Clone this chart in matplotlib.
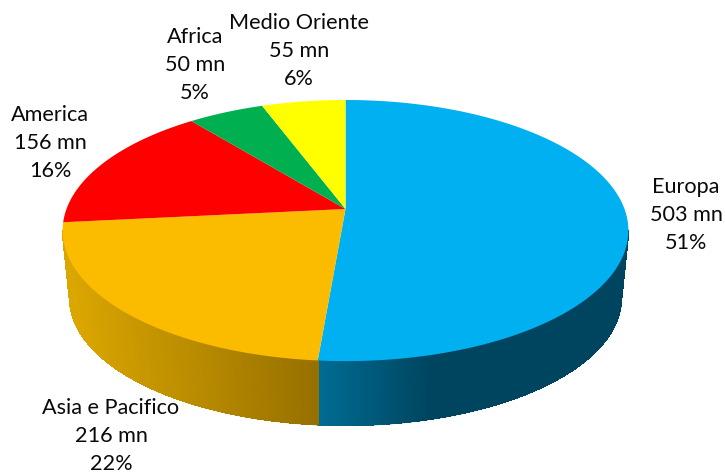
import numpy as np
import matplotlib
matplotlib.use("Agg")
import matplotlib.pyplot as plt
from matplotlib.collections import LineCollection
from matplotlib.colors import to_rgb

# Data, clockwise from 12 o'clock
regions = ["Europa", "Asia e Pacifico", "America", "Africa", "Medio Oriente"]
values = [503, 216, 156, 50, 55]
colors = ["#00B0F0", "#FBBC00", "#FF0000", "#00B050", "#FFFF00"]
label_xy = [(686, 215), (111, 436), (50, 143), (195, 65), (299, 51)]

# Projection of the tilted disc into pixels
APEX = (345.5, 209.0)
BX, BY, K = 279.0, 127.0, 0.165
DEPTH, SHRINK = 68.0, 0.975


def rim(theta_deg, scale=1.0, dy=0.0):
    t = np.radians(theta_deg)
    x, y = np.sin(t), np.cos(t)
    w = 1 + K * y
    return APEX[0] + scale * BX * x / w, APEX[1] - scale * BY * y / w + dy


fig = plt.figure(figsize=(7.25, 4.74), dpi=100)
ax = fig.add_axes([0, 0, 1, 1])
ax.set_xlim(0, 725)
ax.set_ylim(474, 0)
ax.axis("off")

edges = np.concatenate([[0], np.cumsum(values)]) / sum(values) * 360
th0, th1 = np.degrees(np.arccos(-K)), 360 - np.degrees(np.arccos(-K))


def side_color(i, x):
    if i == 0:
        f = np.clip((x - 318) / (430 - 318), 0, 1)
        a, b = to_rgb("#006C94"), to_rgb("#00455F")
    else:
        f = np.clip((318 - x) / (318 - 70), 0, 1)
        a, b = to_rgb("#967000"), to_rgb("#DBA600")
    return tuple(np.array(a) + (np.array(b) - np.array(a)) * f)


# Side wall: solid quads, with a smooth stroke along the outer silhouette
for i in (0, 1):
    lo, hi = max(edges[i], th0), min(edges[i + 1], th1)
    ts = np.linspace(lo, hi, int((hi - lo) * 4) + 2)
    segs, cols = [], []
    for a, b in zip(ts[:-1], ts[1:]):
        xa, ya = rim(a)
        xb, yb = rim(b)
        xc, yc = rim(b, SHRINK, DEPTH)
        xd, yd = rim(a, SHRINK, DEPTH)
        c = side_color(i, (xa + xb) / 2)
        ax.fill([xa, xb, xc, xd], [ya, yb, yc, yd], facecolor=c, edgecolor=c,
                lw=0.5, antialiased=False, zorder=1)
        segs.append([(xd, yd), (xc, yc)])
        cols.append(c)
    ax.add_collection(LineCollection(segs, colors=cols, linewidths=1.0, zorder=1.5))
    # straight silhouette at the disc's widest points
    if i == 0:
        ax.plot([rim(lo)[0], rim(lo, SHRINK, DEPTH)[0]], [rim(lo)[1], rim(lo, SHRINK, DEPTH)[1]],
                color=cols[0], lw=1.0, zorder=1.5)
    else:
        ax.plot([rim(hi)[0], rim(hi, SHRINK, DEPTH)[0]], [rim(hi)[1], rim(hi, SHRINK, DEPTH)[1]],
                color=cols[-1], lw=1.0, zorder=1.5)

# Top face
for i, c in enumerate(colors):
    ts = np.linspace(edges[i], edges[i + 1], 200)
    xs, ys = rim(ts)
    ax.fill(np.r_[APEX[0], xs], np.r_[APEX[1], ys], facecolor=c, edgecolor="none", zorder=2)

# Labels
total = sum(values)
for name, v, (x, y) in zip(regions, values, label_xy):
    ax.text(x, y, f"{name}\n{v} mn\n{round(v / total * 100)}%", ha="center", va="center",
            family="Lato", fontsize=15.6, linespacing=1.5, color="#0A0A0A", zorder=3)

fig.savefig("out.png", dpi=100)
